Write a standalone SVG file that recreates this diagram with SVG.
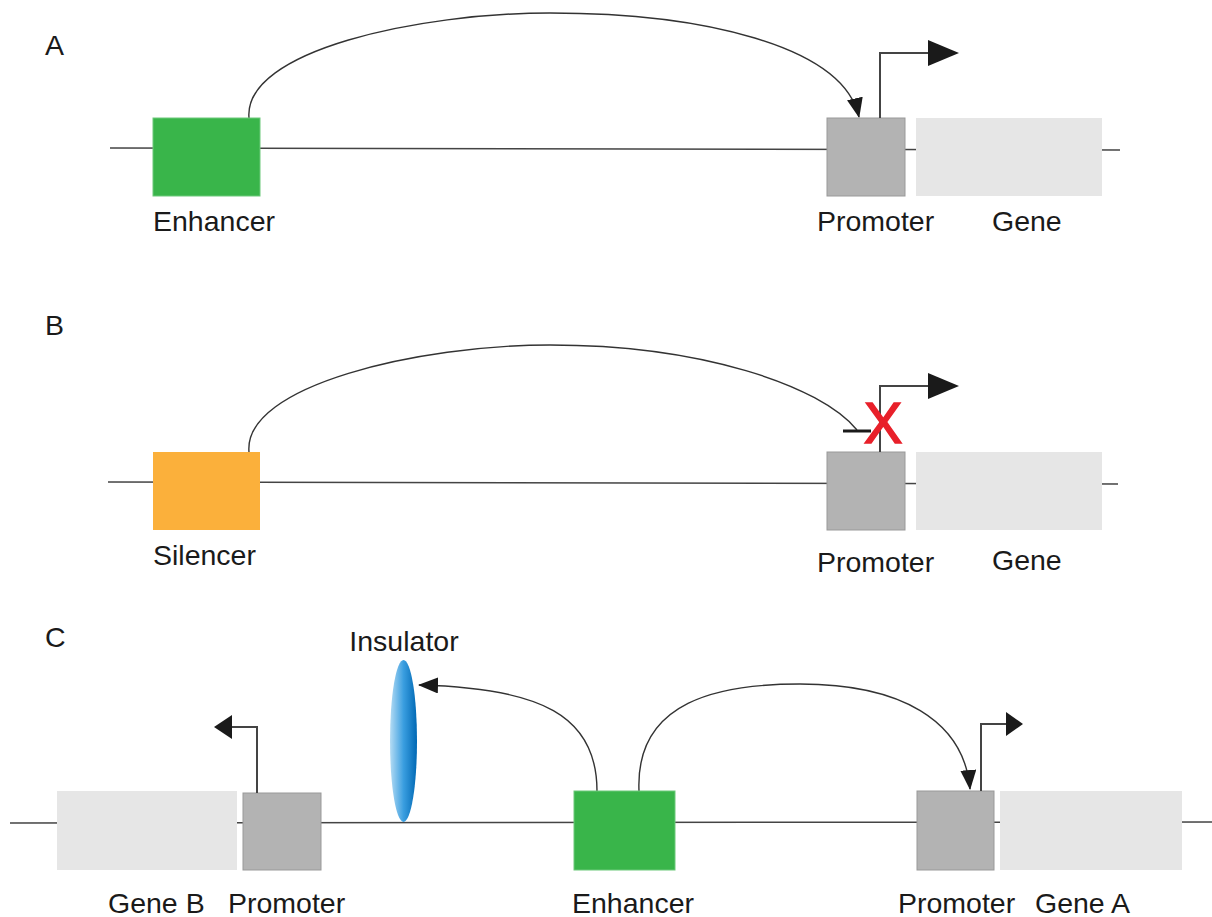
<svg xmlns="http://www.w3.org/2000/svg" width="1212" height="917" viewBox="0 0 1212 917">
<style>
text{font-family:"Liberation Sans",Arial,sans-serif;font-size:28.5px;fill:#1a1a1a}
.base{stroke:#444;stroke-width:1.5;fill:none}
.conn{stroke:#333;stroke-width:1.4;fill:none}
.tss{stroke:#444;stroke-width:2;fill:none}
.head{fill:#1a1a1a}
.enh{fill:#39b54a;stroke:#6cc97a;stroke-width:1}
.sil{fill:#fbb03b}
.pro{fill:#b3b3b3;stroke:#999;stroke-width:1}
.gene{fill:#e6e6e6}
</style>
<defs>
<marker id="ah" markerUnits="userSpaceOnUse" markerWidth="20" markerHeight="16" refX="19" refY="8" orient="auto" viewBox="0 0 20 16">
<path d="M0,0 L20,8 L0,16 Z" fill="#1a1a1a"/>
</marker>
<linearGradient id="ins" x1="0" y1="0" x2="1" y2="0">
<stop offset="0" stop-color="#b5dcf4"/>
<stop offset="0.5" stop-color="#3a9ee0"/>
<stop offset="1" stop-color="#0068b4"/>
</linearGradient>
</defs>

<g id="baselines">
<line class="base" x1="110" y1="148" x2="1120" y2="150"/>
<line class="base" x1="108" y1="482" x2="1118" y2="484"/>
<line class="base" x1="10" y1="823" x2="1212" y2="822"/>
</g>

<g id="labels-panels">
<text x="45" y="55">A</text>
<text x="45" y="335">B</text>
<text x="45" y="647">C</text>
</g>

<g id="connectors">
<path class="conn" d="M249,118 C243,50 420,13 550,13 C700,13 843,45 859,117" marker-end="url(#ah)"/>
<path class="conn" d="M249,452 C243,385 420,345 550,345 C700,345 820,385 857,430"/>
<path class="conn" d="M597,791 C597,715 540,688 419,685" marker-end="url(#ah)"/>
<path class="conn" d="M639,791 C635,700 720,684 800,684 C900,684 964,720 970,789" marker-end="url(#ah)"/>
</g>

<g id="enhancerA">
<rect class="enh" x="153" y="118" width="107" height="78"/>
<text x="153" y="231">Enhancer</text>
</g>
<g id="promoterA">
<rect class="pro" x="827" y="118" width="78" height="78"/>
<polyline class="tss" points="880,118 880,53 930,53"/>
<polygon class="head" points="928,40 959,53 928,66"/>
<text x="817" y="231">Promoter</text>
</g>
<g id="geneA">
<rect class="gene" x="916" y="118" width="186" height="78"/>
<text x="992" y="231">Gene</text>
</g>

<g id="silencerB">
<rect class="sil" x="153" y="452" width="107" height="78"/>
<text x="153" y="565">Silencer</text>
</g>
<g id="promoterB">
<rect class="pro" x="827" y="452" width="78" height="78"/>
<polyline class="tss" points="880,452 880,386 930,386"/>
<polygon class="head" points="928,373 959,386 928,399"/>
<line x1="843" y1="431" x2="871" y2="431" stroke="#1a1a1a" stroke-width="3"/>
<text x="883" y="443" text-anchor="middle" style="font-size:58px;fill:#e8202a;stroke:#e8202a;stroke-width:1.5">X</text>
<text x="817" y="572">Promoter</text>
</g>
<g id="geneB_panelB">
<rect class="gene" x="916" y="452" width="186" height="78"/>
<text x="992" y="570">Gene</text>
</g>

<g id="geneB">
<rect class="gene" x="57" y="791" width="180" height="79"/>
<text x="108" y="913">Gene B</text>
</g>
<g id="promoterCB">
<rect class="pro" x="243" y="793" width="78" height="77"/>
<polyline class="tss" points="257,793 257,727 230,727"/>
<polygon class="head" points="232,715 214,727 232,739"/>
<text x="228" y="913">Promoter</text>
</g>
<g id="insulator">
<ellipse cx="403.5" cy="741" rx="13.5" ry="81" fill="url(#ins)"/>
<text x="404" y="651" text-anchor="middle">Insulator</text>
</g>
<g id="enhancerC">
<rect class="enh" x="574" y="791" width="101" height="79"/>
<text x="572" y="913">Enhancer</text>
</g>
<g id="promoterCA">
<rect class="pro" x="917" y="791" width="77" height="79"/>
<polyline class="tss" points="981,791 981,724 1008,724"/>
<polygon class="head" points="1006,712 1023,724 1006,736"/>
<text x="898" y="913">Promoter</text>
</g>
<g id="geneAC">
<rect class="gene" x="1000" y="791" width="182" height="79"/>
<text x="1035" y="913">Gene A</text>
</g>
</svg>
